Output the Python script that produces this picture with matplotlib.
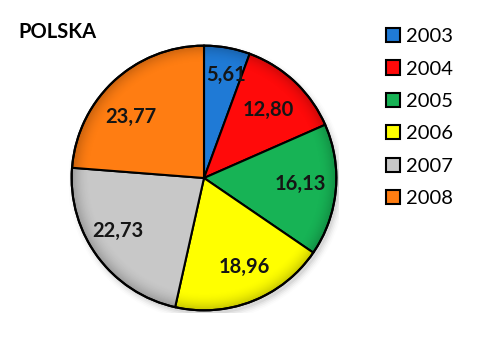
import matplotlib
matplotlib.use('Agg')
import matplotlib.pyplot as plt
from matplotlib.patches import Patch, Circle
import numpy as np

plt.rcParams['font.family'] = ['Lato', 'DejaVu Sans']

years = ['2003', '2004', '2005', '2006', '2007', '2008']
values = [5.61, 12.80, 16.13, 18.96, 22.73, 23.77]
colors = ['#1f7ad6', '#ff0a0a', '#17b355', '#ffff00', '#c8c8c8', '#ff7d12']
title = 'POLSKA'

fig = plt.figure(figsize=(4.95, 3.56), dpi=100)
ax = fig.add_axes([69/495, 43/356, 270/495, 270/356])

# soft drop shadow behind the pie
for i, a in enumerate(np.linspace(0.05, 0.01, 5)):
    ax.add_patch(Circle((0.02, -0.03), 1.0 + i*0.012, color='black', alpha=a, zorder=0, lw=0))

wedges, _ = ax.pie(values, colors=colors, startangle=90, counterclock=False,
                   wedgeprops=dict(edgecolor='black', linewidth=1.5, zorder=2), radius=1.0)

# darker rim, a bit like the bevel in the original
n = 400
g = np.linspace(-1, 1, n)
xx, yy = np.meshgrid(g, g)
rr = np.sqrt(xx**2 + yy**2)
shade = np.zeros((n, n, 4))
shade[..., 3] = np.clip((rr - 0.86) / 0.14, 0, 1)**2 * 0.22
im = ax.imshow(shade, extent=(-1, 1, -1, 1), origin='lower', zorder=2.5, interpolation='bilinear')
im.set_clip_path(Circle((0, 0), 1.0, transform=ax.transData))
ax.add_patch(Circle((0, 0), 1.0, fill=False, edgecolor='black', linewidth=1.5, zorder=2.6))

# label positions (distance from centre, angle shift) roughly like the original
dist = [0.80, 0.71, 0.73, 0.74, 0.76, 0.72]
shift = [-2, 0, 2, 3, -5, 7]
for w, v, d, s in zip(wedges, values, dist, shift):
    ang = np.deg2rad((w.theta1 + w.theta2) / 2 + s)
    ax.text(d*np.cos(ang), d*np.sin(ang), ('%.2f' % v).replace('.', ','),
            ha='center', va='center', fontsize=14.5, fontweight='bold', color='#151515', zorder=3)

ax.set_xlim(-1.02, 1.02)
ax.set_ylim(-1.02, 1.02)
ax.set_aspect('equal')
ax.axis('off')

fig.text(18/495, 1 - 32/356, title, fontsize=14.5, fontweight='bold', va='center', ha='left')

handles = [Patch(facecolor=c, edgecolor='black', linewidth=1.5) for c in colors]
fig.legend(handles, years, loc='upper left', bbox_to_anchor=(376/495, 1 - 18/356),
           frameon=False, fontsize=14.5, handlelength=0.7, handleheight=0.7,
           handletextpad=0.3, labelspacing=0.76, borderpad=0)

fig.savefig('out.png', dpi=100)
